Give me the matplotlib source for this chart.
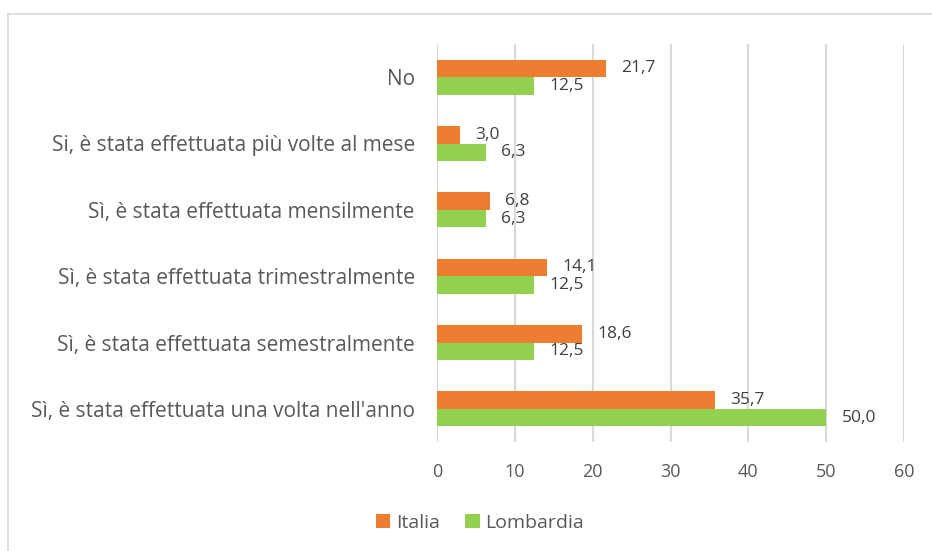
import matplotlib
matplotlib.use("Agg")
import matplotlib.pyplot as plt
import numpy as np
from matplotlib.lines import Line2D

categories = [
    "Sì, è stata effettuata una volta nell'anno",
    "Sì, è stata effettuata semestralmente",
    "Sì, è stata effettuata trimestralmente",
    "Sì, è stata effettuata mensilmente",
    "Si, è stata effettuata più volte al mese",
    "No",
]
italia = [35.7, 18.6, 14.1, 6.8, 3.0, 21.7]
lombardia = [50.0, 12.5, 12.5, 6.3, 6.3, 12.5]
xticks = [0, 10, 20, 30, 40, 50, 60]

plt.rcParams['font.family'] = ['Open Sans', 'DejaVu Sans']

W, H = 932, 551
fig = plt.figure(figsize=(W / 100, H / 100), dpi=100)
ax = fig.add_axes([437 / W, 1 - 442 / H, (904 - 437) / W, (442 - 44) / H])

y = np.arange(len(categories))
h = 0.265
c_it = '#ED7D31'
c_lo = '#92D050'
ax.barh(y + h / 2, italia, height=h, color=c_it, label='Italia', zorder=3)
ax.barh(y - h / 2, lombardia, height=h, color=c_lo, label='Lombardia', zorder=3)

for yi, v in zip(y, italia):
    ax.annotate(f"{v:.1f}".replace('.', ','), (v, yi + h / 2), xytext=(11, 0),
                textcoords='offset points', va='center', ha='left',
                fontsize=12.5, color='#404040')
for yi, v in zip(y, lombardia):
    ax.annotate(f"{v:.1f}".replace('.', ','), (v, yi - h / 2), xytext=(11, 0),
                textcoords='offset points', va='center', ha='left',
                fontsize=12.5, color='#404040')

ax.set_xlim(0, 60)
ax.set_ylim(-0.5, len(categories) - 0.5)
ax.set_xticks(xticks)
ax.set_xticklabels([str(t) for t in xticks], fontsize=13, color='#595959')
ax.set_yticks(y)
ax.set_yticklabels(categories, fontsize=15, color='#595959')
ax.tick_params(axis='both', length=0)
ax.tick_params(axis='x', pad=15)
ax.tick_params(axis='y', pad=16)
ax.xaxis.grid(True, color='#d9d9d9', linewidth=1.5, zorder=0)
for s in ax.spines.values():
    s.set_visible(False)

leg = fig.legend(loc='center', bbox_to_anchor=(480 / W, 1 - 523 / H), ncol=2,
                 frameon=False, fontsize=14, handlelength=0.75, handleheight=0.75,
                 handletextpad=0.3, columnspacing=1.3)
for t in leg.get_texts():
    t.set_color('#595959')

fig.add_artist(Line2D([8 / W, 8 / W], [0, 1 - 14 / H], transform=fig.transFigure,
                      color='#d9d9d9', linewidth=1.2))
fig.add_artist(Line2D([8 / W, 1], [1 - 14 / H, 1 - 14 / H], transform=fig.transFigure,
                      color='#d9d9d9', linewidth=1.2))

fig.savefig('out.png', dpi=100, facecolor='white')
